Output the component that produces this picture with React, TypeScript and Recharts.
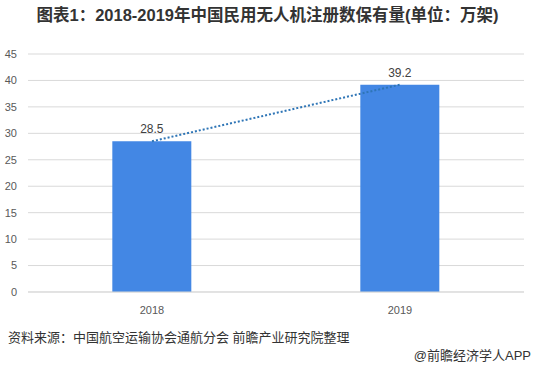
import { ComposedChart, Bar, Line, XAxis, YAxis, CartesianGrid, LabelList } from 'recharts';

const years = ['2018', '2019'];
const registered = [28.5, 39.2];
const yTicks = [0, 5, 10, 15, 20, 25, 30, 35, 40, 45];

const data = years.map((year, i) => ({ year, value: registered[i], trend: registered[i] }));

const font = '"Liberation Sans", "Noto Sans CJK SC", sans-serif';

export default function App() {
  return (
    <div style={{ position: 'absolute', left: 0, top: 0, width: 535, height: 371, background: '#fff', fontFamily: font }}>
      <div
        style={{
          position: 'absolute',
          top: 5,
          left: 0,
          width: 535,
          textAlign: 'center',
          fontSize: 16.5,
          fontWeight: 'bold',
          color: '#333',
          lineHeight: '20px',
        }}
      >
        图表1：2018-2019年中国民用无人机注册数保有量(单位：万架)
      </div>
      <ComposedChart
        width={535}
        height={371}
        data={data}
        margin={{ top: 54, right: 11, left: 0, bottom: 49 }}
        barCategoryGap="34%"
        style={{ position: 'absolute', top: 0, left: 0 }}
      >
        <CartesianGrid vertical={false} stroke="#d9d9d9" />
        <XAxis
          dataKey="year"
          height={30}
          axisLine={{ stroke: '#d9d9d9' }}
          tickLine={false}
          tickMargin={8}
          tick={{ fontSize: 11, fill: '#595959', fontFamily: font }}
        />
        <YAxis
          width={28}
          domain={[0, 45]}
          ticks={yTicks}
          axisLine={false}
          tickLine={false}
          tickMargin={5}
          tick={{ fontSize: 11, fill: '#595959', fontFamily: font }}
        />
        <Bar dataKey="value" fill="#4387e4" isAnimationActive={false}>
          <LabelList dataKey="value" position="top" offset={8} fill="#404040" fontSize={12} fontFamily={font} />
        </Bar>
        <Line
          dataKey="trend"
          stroke="#2e75b6"
          strokeWidth={2}
          strokeDasharray="2 2"
          dot={false}
          activeDot={false}
          isAnimationActive={false}
        />
      </ComposedChart>
      <div style={{ position: 'absolute', left: 8, top: 330, fontSize: 13, color: '#333', letterSpacing: 0, lineHeight: '16px' }}>
        资料来源：中国航空运输协会通航分会 前瞻产业研究院整理
      </div>
      <div style={{ position: 'absolute', right: 4, top: 348, fontSize: 13, color: '#333', lineHeight: '16px' }}>
        @前瞻经济学人APP
      </div>
    </div>
  );
}
